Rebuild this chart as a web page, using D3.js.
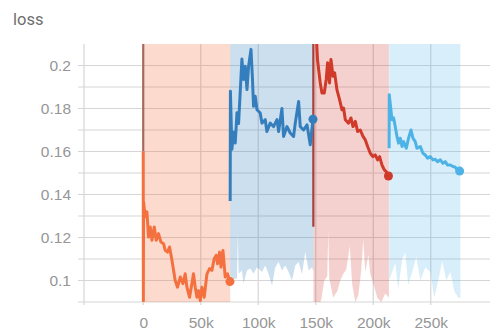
<!DOCTYPE html>
<html>
<head>
<meta charset="utf-8">
<script src="https://cdn.jsdelivr.net/npm/d3@7"></script>
<style>
    body { margin: 0; background: #fff; }
    svg { display: block; font-family: Roboto, "Noto Sans", sans-serif; }
    .tick text { fill: #969696; font-size: 15.5px; }
</style>
</head>
<body>
<svg id="chart" width="500" height="333"></svg>
<script>
const xTicks      = [0, 50, 100, 150, 200, 250];
const yTicks      = [0.1, 0.12, 0.14, 0.16, 0.18, 0.2];
const yGrid       = [0.09, 0.1, 0.11, 0.12, 0.13, 0.14, 0.15, 0.16, 0.17, 0.18, 0.19, 0.2];

// smoothed loss per run
const orangeSmooth = [
    [0, 0.16], [0.1, 0.0905], [0.3, 0.1366], [1.7, 0.1296], [3.2, 0.1319], [4.6, 0.1202],
    [6.1, 0.1249], [7.6, 0.1187], [9.6, 0.1249], [11.3, 0.1187], [13.3, 0.1218], [15.4, 0.1179],
    [17.7, 0.1171], [19.1, 0.114], [21.1, 0.1132], [22.9, 0.1156], [25.0, 0.1093], [27.8, 0.100],
    [29.8, 0.0969], [32.2, 0.1016], [34.5, 0.0985], [36.5, 0.1031], [38.0, 0.0969], [40.3, 0.0922],
    [42.3, 0.0985], [43.7, 0.1031], [45.2, 0.0969], [46.7, 0.0922], [48.1, 0.0953], [49.6, 0.0907],
    [51.0, 0.0969], [53.0, 0.0922], [55.4, 0.1031], [57.7, 0.1055], [59.7, 0.1047], [61.7, 0.1101],
    [63.5, 0.1117], [64.6, 0.1078], [66.4, 0.1132], [67.6, 0.1062], [69.3, 0.114], [71.3, 0.1016],
    [73.3, 0.1031], [75.4, 0.0995]
];
const blueSmooth = [
    [75.6, 0.137], [75.8, 0.188], [77.1, 0.161], [78.5, 0.169], [80.0, 0.164], [81.5, 0.178],
    [82.9, 0.173], [85.8, 0.203], [87.2, 0.1935], [88.7, 0.1997], [90.2, 0.1888], [91.6, 0.1997],
    [93.7, 0.2075], [95.0, 0.1935], [95.9, 0.181], [97.4, 0.1857], [98.9, 0.1794], [101.7, 0.1779],
    [103.2, 0.1732], [106.1, 0.1748], [107.5, 0.1693], [110.4, 0.1732], [113.3, 0.1716], [116.3, 0.1748],
    [117.7, 0.1693], [120.6, 0.180], [122.0, 0.167], [125.0, 0.1716], [127.8, 0.1686], [130.7, 0.167],
    [132.2, 0.1732], [135.1, 0.1833], [136.5, 0.1716], [139.4, 0.170], [142.4, 0.1724], [145.2, 0.1631],
    [147.6, 0.175]
];
const redSmooth = [
    [148.2, 0.22], [150.5, 0.214], [151.5, 0.2028], [153.9, 0.1919], [155.4, 0.1872],
    [157.4, 0.1872], [159.1, 0.1935], [160.3, 0.2013], [162.0, 0.1919], [163.2, 0.2028], [165.0, 0.195],
    [166.4, 0.1966], [168.4, 0.1888], [170.7, 0.1841], [172.8, 0.1794], [174.2, 0.1802], [175.7, 0.1748],
    [178.5, 0.1732], [180.6, 0.1756], [182.4, 0.1716], [184.4, 0.174], [186.4, 0.1693], [188.7, 0.170],
    [191.1, 0.167], [193.1, 0.1654], [195.1, 0.1623], [197.4, 0.1592], [199.7, 0.1576], [201.7, 0.1584],
    [203.8, 0.1561], [205.5, 0.1576], [207.6, 0.1537], [209.6, 0.1514], [211.3, 0.1506], [213.2, 0.1486]
];
const skySmooth = [
    [213.8, 0.1615], [213.9, 0.1864], [216.3, 0.1748], [217.7, 0.1756], [219.1, 0.1716], [220.6, 0.167],
    [222.0, 0.1639], [223.5, 0.1662], [225.0, 0.1623], [226.4, 0.1646], [228.7, 0.1615], [230.7, 0.1662],
    [232.8, 0.170], [234.5, 0.1662], [236.5, 0.1646], [238.0, 0.1615], [240.9, 0.1623], [243.2, 0.1592],
    [245.2, 0.1584], [247.2, 0.1569], [249.6, 0.1576], [251.9, 0.1561], [253.9, 0.1564], [255.9, 0.1553],
    [258.3, 0.1561], [260.6, 0.1545], [262.6, 0.1553], [264.6, 0.1537], [267.0, 0.1537], [269.3, 0.153],
    [271.3, 0.1527], [273.3, 0.1514], [275.1, 0.1509]
];

// lower edge of the raw (unsmoothed) band per run; its top is off the chart
const orangeLow = [[0, 0.085], [75.6, 0.085]];
const blueLow = [
    [75.6, 0.100], [81.5, 0.101], [82.3, 0.122], [83.0, 0.1033], [85.8, 0.1047], [87.2, 0.0986],
    [90.2, 0.1047], [93.0, 0.1056], [95.9, 0.1033], [98.9, 0.1062], [103.2, 0.104], [106.1, 0.107],
    [109.0, 0.103], [112.0, 0.0977], [114.8, 0.1062], [117.7, 0.1086], [120.6, 0.1047], [123.5, 0.107],
    [126.4, 0.104], [129.3, 0.100], [132.2, 0.107], [135.1, 0.1086], [138.0, 0.103], [140.9, 0.1132],
    [143.8, 0.1047], [146.8, 0.1062], [148.0, 0.104]
];
const redLow = [
    [148.0, 0.09], [152.2, 0.088], [154.8, 0.091], [157.4, 0.1], [160.0, 0.102], [160.9, 0.123],
    [161.7, 0.101], [165.2, 0.092], [168.7, 0.095], [171.3, 0.1], [173.9, 0.103], [176.5, 0.105],
    [179.6, 0.116], [181.7, 0.098], [184.4, 0.09], [187.0, 0.093], [189.6, 0.105], [191.3, 0.119],
    [193.1, 0.104], [195.7, 0.112], [197.4, 0.103], [200.9, 0.097], [203.5, 0.092], [207.0, 0.09],
    [210.4, 0.094], [213.6, 0.092]
];
const skyLow = [
    [213.8, 0.100], [219.1, 0.108], [221.7, 0.096], [225.2, 0.110], [227.8, 0.113], [230.4, 0.098],
    [233.9, 0.104], [237.4, 0.111], [240.9, 0.100], [245.2, 0.106], [249.6, 0.104], [253.0, 0.092],
    [256.5, 0.100], [260.0, 0.109], [263.5, 0.100], [267.0, 0.104], [270.5, 0.095], [274.0, 0.092],
    [275.8, 0.092]
];

// the steep first raw step of two runs, drawn darker
const orangeSpike = [[0, 0.16], [0, 0.25]];
const redSpike    = [[147.9, 0.125], [147.9, 0.25]];

const runs = [
    { line: orangeSmooth, low: orangeLow, color: '#f4703f', band: 0.26 },
    { line: blueSmooth,   low: blueLow,   color: '#357ebd', band: 0.25 },
    { line: redSmooth,    low: redLow,    color: '#cf3a2a', band: 0.23 },
    { line: skySmooth,    low: skyLow,    color: '#4db3e6', band: 0.22 }
];
const spikes = [
    { pts: orangeSpike, color: '#a8695c' },
    { pts: redSpike,    color: '#a8403f' }
];

const LEFT   = 84;
const RIGHT  = 490;
const TOP    = 44;
const BOTTOM = 302;

const svg = d3.select('#chart');

const x = d3.scaleLinear().domain([-51.5, 301.5]).range([LEFT, RIGHT]);
const y = d3.scaleLinear().domain([0.09, 0.21]).range([BOTTOM, TOP]);

svg.append('text')
    .attr('x', 13)
    .attr('y', 25)
    .attr('fill', '#6e6e6e')
    .style('font-size', '16.5px')
    .text('loss');

svg.append('defs').append('clipPath')
    .attr('id', 'plot-clip')
    .append('rect')
    .attr('x', LEFT)
    .attr('y', TOP)
    .attr('width', RIGHT - LEFT)
    .attr('height', BOTTOM - TOP);

// grid
let grid = svg.append('g').attr('stroke', '#d6d6d6').attr('stroke-width', 1.2);

grid.selectAll('.hgrid')
    .data(yGrid)
    .join('line')
    .attr('x1', LEFT - 6)
    .attr('x2', RIGHT)
    .attr('y1', d => y(d))
    .attr('y2', d => y(d));

grid.selectAll('.vgrid')
    .data(xTicks)
    .join('line')
    .attr('x1', d => x(d))
    .attr('x2', d => x(d))
    .attr('y1', TOP)
    .attr('y2', BOTTOM + 3);

grid.append('line')
    .attr('x1', LEFT)
    .attr('x2', LEFT)
    .attr('y1', TOP)
    .attr('y2', BOTTOM + 3);

// tick labels
svg.append('g')
    .attr('transform', `translate(${LEFT},0)`)
    .call(d3.axisLeft(y).tickValues(yTicks).tickSize(0).tickPadding(13).tickFormat(d3.format('~g')))
    .call(g => g.select('.domain').remove());

svg.append('g')
    .attr('transform', `translate(0,${BOTTOM})`)
    .call(d3.axisBottom(x).tickValues(xTicks).tickSize(0).tickPadding(15)
        .tickFormat(d => d === 0 ? '0' : `${d}k`))
    .call(g => g.select('.domain').remove());

let plot = svg.append('g').attr('clip-path', 'url(#plot-clip)');

// raw bands
let band = d3.area()
    .x(d => x(d[0]))
    .y0(d => y(d[1]))
    .y1(TOP - 5);

plot.selectAll('.band')
    .data(runs)
    .join('path')
    .attr('d', d => band(d.low))
    .attr('fill', d => d.color)
    .attr('fill-opacity', d => d.band);

let line = d3.line()
    .x(d => x(d[0]))
    .y(d => y(d[1]));

plot.selectAll('.spike')
    .data(spikes)
    .join('path')
    .attr('d', d => line(d.pts))
    .attr('fill', 'none')
    .attr('stroke', d => d.color)
    .attr('stroke-width', 2.2);

plot.selectAll('.smooth')
    .data(runs)
    .join('path')
    .attr('d', d => line(d.line))
    .attr('fill', 'none')
    .attr('stroke', d => d.color)
    .attr('stroke-width', 3)
    .attr('stroke-linejoin', 'round');

// marker at the last point of each run
svg.selectAll('.last')
    .data(runs)
    .join('circle')
    .attr('cx', d => x(d.line[d.line.length - 1][0]))
    .attr('cy', d => y(d.line[d.line.length - 1][1]))
    .attr('r', 4.5)
    .attr('fill', d => d.color);
</script>
</body>
</html>
